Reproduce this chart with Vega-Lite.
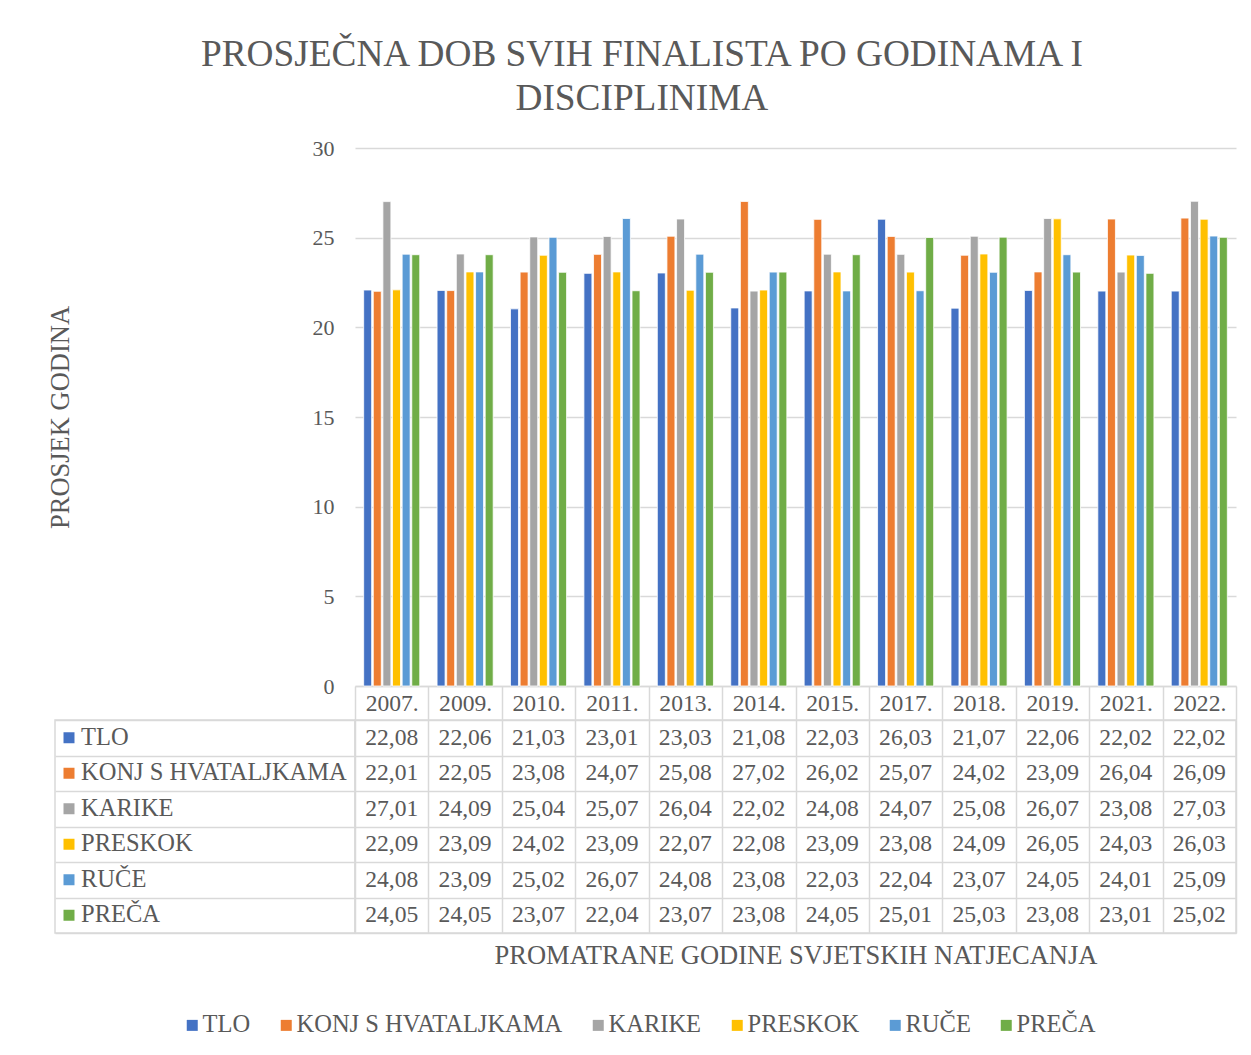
{
  "$schema": "https://vega.github.io/schema/vega-lite/v6.json",
  "padding": {"left": 47, "top": 35, "right": 5, "bottom": 5},
  "background": "white",
  "title": {
    "text": ["PROSJEČNA DOB SVIH FINALISTA PO GODINAMA I", "DISCIPLINIMA"],
    "fontSize": 37.3, "fontWeight": "normal", "color": "#595959", "lineHeight": 44,
    "anchor": "middle", "offset": 19, "font": "Liberation Serif"
  },
  "datasets": {
    "d": [
      {"year": "2007.", "series": "TLO", "value": 22.08},
      {"year": "2009.", "series": "TLO", "value": 22.06},
      {"year": "2010.", "series": "TLO", "value": 21.03},
      {"year": "2011.", "series": "TLO", "value": 23.01},
      {"year": "2013.", "series": "TLO", "value": 23.03},
      {"year": "2014.", "series": "TLO", "value": 21.08},
      {"year": "2015.", "series": "TLO", "value": 22.03},
      {"year": "2017.", "series": "TLO", "value": 26.03},
      {"year": "2018.", "series": "TLO", "value": 21.07},
      {"year": "2019.", "series": "TLO", "value": 22.06},
      {"year": "2021.", "series": "TLO", "value": 22.02},
      {"year": "2022.", "series": "TLO", "value": 22.02},
      {"year": "2007.", "series": "KONJ S HVATALJKAMA", "value": 22.01},
      {"year": "2009.", "series": "KONJ S HVATALJKAMA", "value": 22.05},
      {"year": "2010.", "series": "KONJ S HVATALJKAMA", "value": 23.08},
      {"year": "2011.", "series": "KONJ S HVATALJKAMA", "value": 24.07},
      {"year": "2013.", "series": "KONJ S HVATALJKAMA", "value": 25.08},
      {"year": "2014.", "series": "KONJ S HVATALJKAMA", "value": 27.02},
      {"year": "2015.", "series": "KONJ S HVATALJKAMA", "value": 26.02},
      {"year": "2017.", "series": "KONJ S HVATALJKAMA", "value": 25.07},
      {"year": "2018.", "series": "KONJ S HVATALJKAMA", "value": 24.02},
      {"year": "2019.", "series": "KONJ S HVATALJKAMA", "value": 23.09},
      {"year": "2021.", "series": "KONJ S HVATALJKAMA", "value": 26.04},
      {"year": "2022.", "series": "KONJ S HVATALJKAMA", "value": 26.09},
      {"year": "2007.", "series": "KARIKE", "value": 27.01},
      {"year": "2009.", "series": "KARIKE", "value": 24.09},
      {"year": "2010.", "series": "KARIKE", "value": 25.04},
      {"year": "2011.", "series": "KARIKE", "value": 25.07},
      {"year": "2013.", "series": "KARIKE", "value": 26.04},
      {"year": "2014.", "series": "KARIKE", "value": 22.02},
      {"year": "2015.", "series": "KARIKE", "value": 24.08},
      {"year": "2017.", "series": "KARIKE", "value": 24.07},
      {"year": "2018.", "series": "KARIKE", "value": 25.08},
      {"year": "2019.", "series": "KARIKE", "value": 26.07},
      {"year": "2021.", "series": "KARIKE", "value": 23.08},
      {"year": "2022.", "series": "KARIKE", "value": 27.03},
      {"year": "2007.", "series": "PRESKOK", "value": 22.09},
      {"year": "2009.", "series": "PRESKOK", "value": 23.09},
      {"year": "2010.", "series": "PRESKOK", "value": 24.02},
      {"year": "2011.", "series": "PRESKOK", "value": 23.09},
      {"year": "2013.", "series": "PRESKOK", "value": 22.07},
      {"year": "2014.", "series": "PRESKOK", "value": 22.08},
      {"year": "2015.", "series": "PRESKOK", "value": 23.09},
      {"year": "2017.", "series": "PRESKOK", "value": 23.08},
      {"year": "2018.", "series": "PRESKOK", "value": 24.09},
      {"year": "2019.", "series": "PRESKOK", "value": 26.05},
      {"year": "2021.", "series": "PRESKOK", "value": 24.03},
      {"year": "2022.", "series": "PRESKOK", "value": 26.03},
      {"year": "2007.", "series": "RUČE", "value": 24.08},
      {"year": "2009.", "series": "RUČE", "value": 23.09},
      {"year": "2010.", "series": "RUČE", "value": 25.02},
      {"year": "2011.", "series": "RUČE", "value": 26.07},
      {"year": "2013.", "series": "RUČE", "value": 24.08},
      {"year": "2014.", "series": "RUČE", "value": 23.08},
      {"year": "2015.", "series": "RUČE", "value": 22.03},
      {"year": "2017.", "series": "RUČE", "value": 22.04},
      {"year": "2018.", "series": "RUČE", "value": 23.07},
      {"year": "2019.", "series": "RUČE", "value": 24.05},
      {"year": "2021.", "series": "RUČE", "value": 24.01},
      {"year": "2022.", "series": "RUČE", "value": 25.09},
      {"year": "2007.", "series": "PREČA", "value": 24.05},
      {"year": "2009.", "series": "PREČA", "value": 24.05},
      {"year": "2010.", "series": "PREČA", "value": 23.07},
      {"year": "2011.", "series": "PREČA", "value": 22.04},
      {"year": "2013.", "series": "PREČA", "value": 23.07},
      {"year": "2014.", "series": "PREČA", "value": 23.08},
      {"year": "2015.", "series": "PREČA", "value": 24.05},
      {"year": "2017.", "series": "PREČA", "value": 25.01},
      {"year": "2018.", "series": "PREČA", "value": 25.03},
      {"year": "2019.", "series": "PREČA", "value": 23.08},
      {"year": "2021.", "series": "PREČA", "value": 23.01},
      {"year": "2022.", "series": "PREČA", "value": 25.02}
    ],
    "s": [
      {"series": "TLO"},
      {"series": "KONJ S HVATALJKAMA"},
      {"series": "KARIKE"},
      {"series": "PRESKOK"},
      {"series": "RUČE"},
      {"series": "PREČA"}
    ],
    "f": [{"t": ""}]
  },
  "columns": 2,
  "bounds": "flush",
  "spacing": {"row": 34, "column": 0},
  "concat": [
    {
      "width": 300,
      "height": 538,
      "data": {"name": "f"},
      "mark": {"type": "text", "opacity": 0},
      "encoding": {"text": {"field": "t", "type": "nominal"}}
    },
    {
      "width": 881,
      "height": 538,
      "data": {"name": "d"},
      "mark": {"type": "bar", "stroke": "white", "strokeWidth": 0.8},
      "encoding": {
        "x": {
          "field": "year", "type": "nominal",
          "sort": ["2007.", "2009.", "2010.", "2011.", "2013.", "2014.", "2015.", "2017.", "2018.", "2019.", "2021.", "2022."],
          "scale": {"paddingInner": 0, "paddingOuter": 0},
          "axis": {
            "title": null, "labelAngle": 0, "tickBand": "extent", "tickSize": 34,
            "tickColor": "#d9d9d9", "tickWidth": 1.5, "domainColor": "#d9d9d9", "domainWidth": 1.5,
            "labelBaseline": "middle", "labelPadding": -17, "labelFontSize": 23.6,
            "labelColor": "#595959", "labelFont": "Liberation Serif", "grid": false
          }
        },
        "xOffset": {
          "field": "series", "type": "nominal",
          "sort": ["TLO", "KONJ S HVATALJKAMA", "KARIKE", "PRESKOK", "RUČE", "PREČA"],
          "scale": {"paddingInner": 0.17, "paddingOuter": 0.9}
        },
        "y": {
          "field": "value", "type": "quantitative",
          "scale": {"domain": [0, 30]},
          "axis": {
            "values": [0, 5, 10, 15, 20, 25, 30], "grid": true, "gridColor": "#d9d9d9", "gridWidth": 1.5,
            "domain": false, "ticks": false, "labelPadding": 21, "labelFontSize": 22,
            "labelColor": "#595959", "labelFont": "Liberation Serif",
            "title": "PROSJEK GODINA", "titleFontSize": 26.5, "titleFontWeight": "normal",
            "titleColor": "#595959", "titleFont": "Liberation Serif",
            "titleX": -295, "titleY": 269, "titleAngle": 270, "titleBaseline": "middle", "titleAlign": "center"
          }
        },
        "color": {
          "field": "series", "type": "nominal",
          "scale": {
            "domain": ["TLO", "KONJ S HVATALJKAMA", "KARIKE", "PRESKOK", "RUČE", "PREČA"],
            "range": ["#4472C4", "#ED7D31", "#A5A5A5", "#FFC000", "#5B9BD5", "#70AD47"]
          },
          "legend": {
            "orient": "none", "legendX": 125, "legendY": 865, "direction": "horizontal",
            "title": null, "symbolType": "square", "symbolSize": 121, "symbolStrokeWidth": 0,
            "labelFontSize": 24.5, "labelColor": "#595959", "labelFont": "Liberation Serif",
            "labelLimit": 400, "columnPadding": 23, "labelOffset": -2
          }
        }
      }
    },
    {
      "width": 300,
      "height": 213,
      "view": {"stroke": "#d9d9d9", "strokeWidth": 1.5},
      "data": {"name": "s"},
      "encoding": {
        "y": {
          "field": "series", "type": "nominal",
          "sort": ["TLO", "KONJ S HVATALJKAMA", "KARIKE", "PRESKOK", "RUČE", "PREČA"],
          "scale": {"paddingInner": 0, "paddingOuter": 0},
          "axis": {
            "title": null, "labels": false, "ticks": false, "domain": false,
            "grid": true, "tickBand": "extent", "gridColor": "#d9d9d9", "gridWidth": 1.5
          }
        }
      },
      "layer": [
        {
          "mark": {"type": "square", "size": 121, "filled": true, "opacity": 1},
          "encoding": {
            "x": {"datum": 14, "type": "quantitative", "scale": {"domain": [0, 300], "nice": false, "zero": false}, "axis": null},
            "color": {"field": "series", "type": "nominal", "legend": null}
          }
        },
        {
          "mark": {"type": "text", "align": "left", "baseline": "middle", "fontSize": 24.5, "color": "#595959", "font": "Liberation Serif"},
          "encoding": {
            "x": {"datum": 26, "type": "quantitative"},
            "text": {"field": "series", "type": "nominal"}
          }
        }
      ]
    },
    {
      "width": 881,
      "height": 213,
      "view": {"stroke": "#d9d9d9", "strokeWidth": 1.5},
      "data": {"name": "d"},
      "mark": {"type": "text", "fontSize": 23.6, "color": "#595959", "font": "Liberation Serif", "baseline": "middle"},
      "encoding": {
        "x": {
          "field": "year", "type": "nominal",
          "sort": ["2007.", "2009.", "2010.", "2011.", "2013.", "2014.", "2015.", "2017.", "2018.", "2019.", "2021.", "2022."],
          "scale": {"paddingInner": 0, "paddingOuter": 0},
          "axis": {
            "labels": false, "ticks": false, "domain": false, "grid": true, "tickBand": "extent",
            "gridColor": "#d9d9d9", "gridWidth": 1.5,
            "title": "PROMATRANE GODINE SVJETSKIH NATJECANJA", "titleFontSize": 26.5,
            "titleFontWeight": "normal", "titleColor": "#595959", "titleFont": "Liberation Serif", "titlePadding": 9
          }
        },
        "y": {
          "field": "series", "type": "nominal",
          "sort": ["TLO", "KONJ S HVATALJKAMA", "KARIKE", "PRESKOK", "RUČE", "PREČA"],
          "scale": {"paddingInner": 0, "paddingOuter": 0},
          "axis": {
            "title": null, "labels": false, "ticks": false, "domain": false,
            "grid": true, "tickBand": "extent", "gridColor": "#d9d9d9", "gridWidth": 1.5
          }
        },
        "text": {"field": "value", "type": "quantitative", "format": ".2f"}
      }
    }
  ],
  "config": {
    "font": "Liberation Serif",
    "view": {"stroke": null},
    "locale": {"number": {"decimal": ",", "thousands": ".", "grouping": [3], "currency": ["", " €"]}}
  }
}
